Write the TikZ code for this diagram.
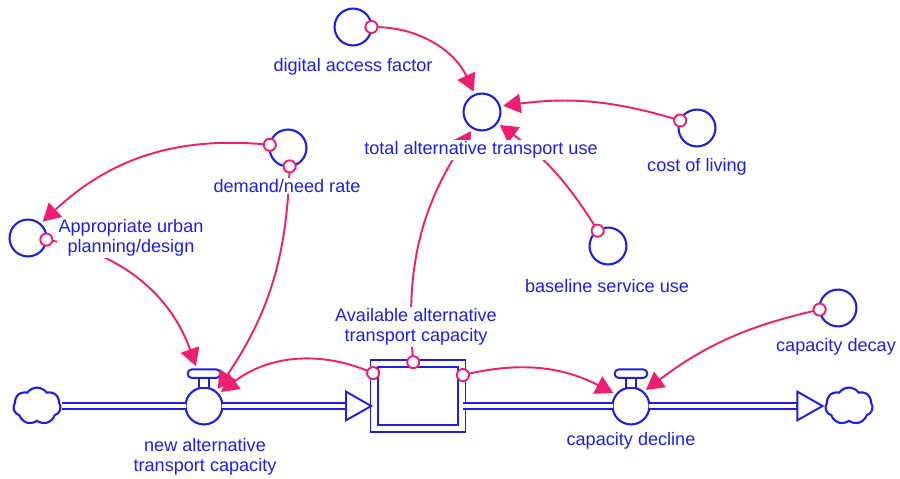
\documentclass[tikz,border=0pt]{standalone}
\usepackage{fontspec}
\setmainfont{Liberation Sans}
\usepackage{tikz}
\usetikzlibrary{arrows.meta,shapes.symbols,positioning}
\definecolor{sfdblue}{RGB}{30,30,235}
\definecolor{sfdpink}{RGB}{238,30,115}
\tikzstyle{aux}=[draw=sfdblue,fill=white,circle,line width=1.2pt,minimum size=21pt,inner sep=0pt,outer sep=0pt]
\tikzstyle{valve}=[aux]
\tikzstyle{valvestem}=[draw=sfdblue,fill=white,line width=1.1pt,minimum width=5.5pt,minimum height=5.5pt,inner sep=0pt,outer sep=0pt]
\tikzstyle{valvebar}=[draw=sfdblue,fill=white,line width=1.1pt,rounded corners=2.2pt,minimum width=18.5pt,minimum height=4.8pt,inner sep=0pt,outer sep=0pt]
\tikzstyle{stockbox}=[draw=sfdblue,fill=white,double,double distance=3pt,line width=1.1pt,minimum width=50pt,minimum height=37.4pt,inner sep=0pt]
\tikzstyle{cloudnode}=[draw=sfdblue,fill=white,cloud,cloud puffs=7,cloud puff arc=110,cloud ignores aspect,line width=1.2pt,minimum width=27pt,minimum height=21pt,inner sep=0pt]
\tikzstyle{pipe}=[draw=sfdblue,line width=1.1pt,double,double distance=2.8pt]
\tikzstyle{pipehead}=[draw=sfdblue,line width=1.1pt,-{Triangle[length=16pt,width=18pt,fill=white]}]
\tikzstyle{link}=[draw=sfdpink,line width=1.1pt,{Circle[length=8pt,fill=white]}-{Triangle[length=10pt,width=11pt]},shorten <=-4pt,shorten >=2pt]
\tikzstyle{lbl}=[text=sfdblue,fill=white,inner sep=1pt,align=center,font=\fontsize{10.3}{11.5}\selectfont]

\begin{document}
\begin{tikzpicture}[x=0.02cm,y=-0.02cm]
\useasboundingbox (0,0) rectangle (900,479);
% auxiliaries
\draw (353, 27) node [aux] (dig) {};
\draw (482, 112) node [aux] (total) {};
\draw (697, 128) node [aux] (cost) {};
\draw (608, 246) node [aux] (base) {};
\draw (288, 148) node [aux] (demand) {};
\draw (28, 238) node [aux] (plan) {};
\draw (838, 308) node [aux] (decay) {};
% stock, flows, clouds
\draw (418, 396) node [stockbox] (stock) {};
\draw (37, 406) node [cloudnode] (source) {};
\draw (849, 406) node [cloudnode] (sink) {};
\draw (204, 406) node [valve] (newcap) {};
\node [valvestem, above=0pt of newcap] (newcapstem) {};
\node [valvebar, above=0pt of newcapstem] (newcapbar) {};
\draw (631, 406) node [valve] (decline) {};
\node [valvestem, above=0pt of decline] (declinestem) {};
\node [valvebar, above=0pt of declinestem] (declinebar) {};
% pipes
\coordinate (inflow) at (newcap.east -| stock.west);
\coordinate (outflow) at (decline.west -| stock.east);
\draw[pipe] (source.east |- newcap.west) -- (newcap.west);
\draw[pipe, shorten >=15.5pt] (newcap.east) -- (inflow);
\draw[pipehead] ([xshift=-16pt]inflow) -- (inflow);
\draw[pipe] (outflow) -- (decline.west);
\draw[pipe, shorten >=15.5pt] (decline.east) -- (sink.west |- decline.east);
\draw[pipehead] ([xshift=-16pt]sink.west |- decline.east) -- (sink.west |- decline.east);
% links
\draw[link] (dig.east) to[bend left=32] (total.112);
\draw[link] (cost.156) to[bend right=12] (total.18);
\draw[link] (base.124) to[bend right=11] (total.324);
\draw[link] (stock.98) to[bend left=19] (total.241);
\draw[link] (demand.170) to[bend right=24] (plan.49);
\draw[link] (plan.355) to[bend left=30] ([xshift=-4pt]newcapbar.north);
\draw[link] (demand.275) to[bend left=16] (newcap.50);
\draw[link] (stock.153) to[bend right=30] (newcap.40);
\draw[link] (stock.25) to[bend left=20] (decline.142);
\draw[link] (decay.185) to[bend right=12] (decline.49);
% labels
\node [lbl] (diglabel) at (353, 67) {digital access factor};
\node [lbl] (totallabel) at (481, 150) {total alternative transport use};
\node [lbl] (costlabel) at (697, 167) {cost of living};
\node [lbl] (baselabel) at (607, 286) {baseline service use};
\node [lbl] (demandlabel) at (287, 186) {demand/need rate};
\node [lbl] (planlabel) at (131, 238) {Appropriate urban\\planning/design};
\node [lbl] (stocklabel) at (416, 327) {Available alternative\\transport capacity};
\node [lbl] (newcaplabel) at (205, 457) {new alternative\\transport capacity};
\node [lbl] (declinelabel) at (631, 441) {capacity decline};
\node [lbl] (decaylabel) at (836, 347) {capacity decay};
\end{tikzpicture}
\end{document}
